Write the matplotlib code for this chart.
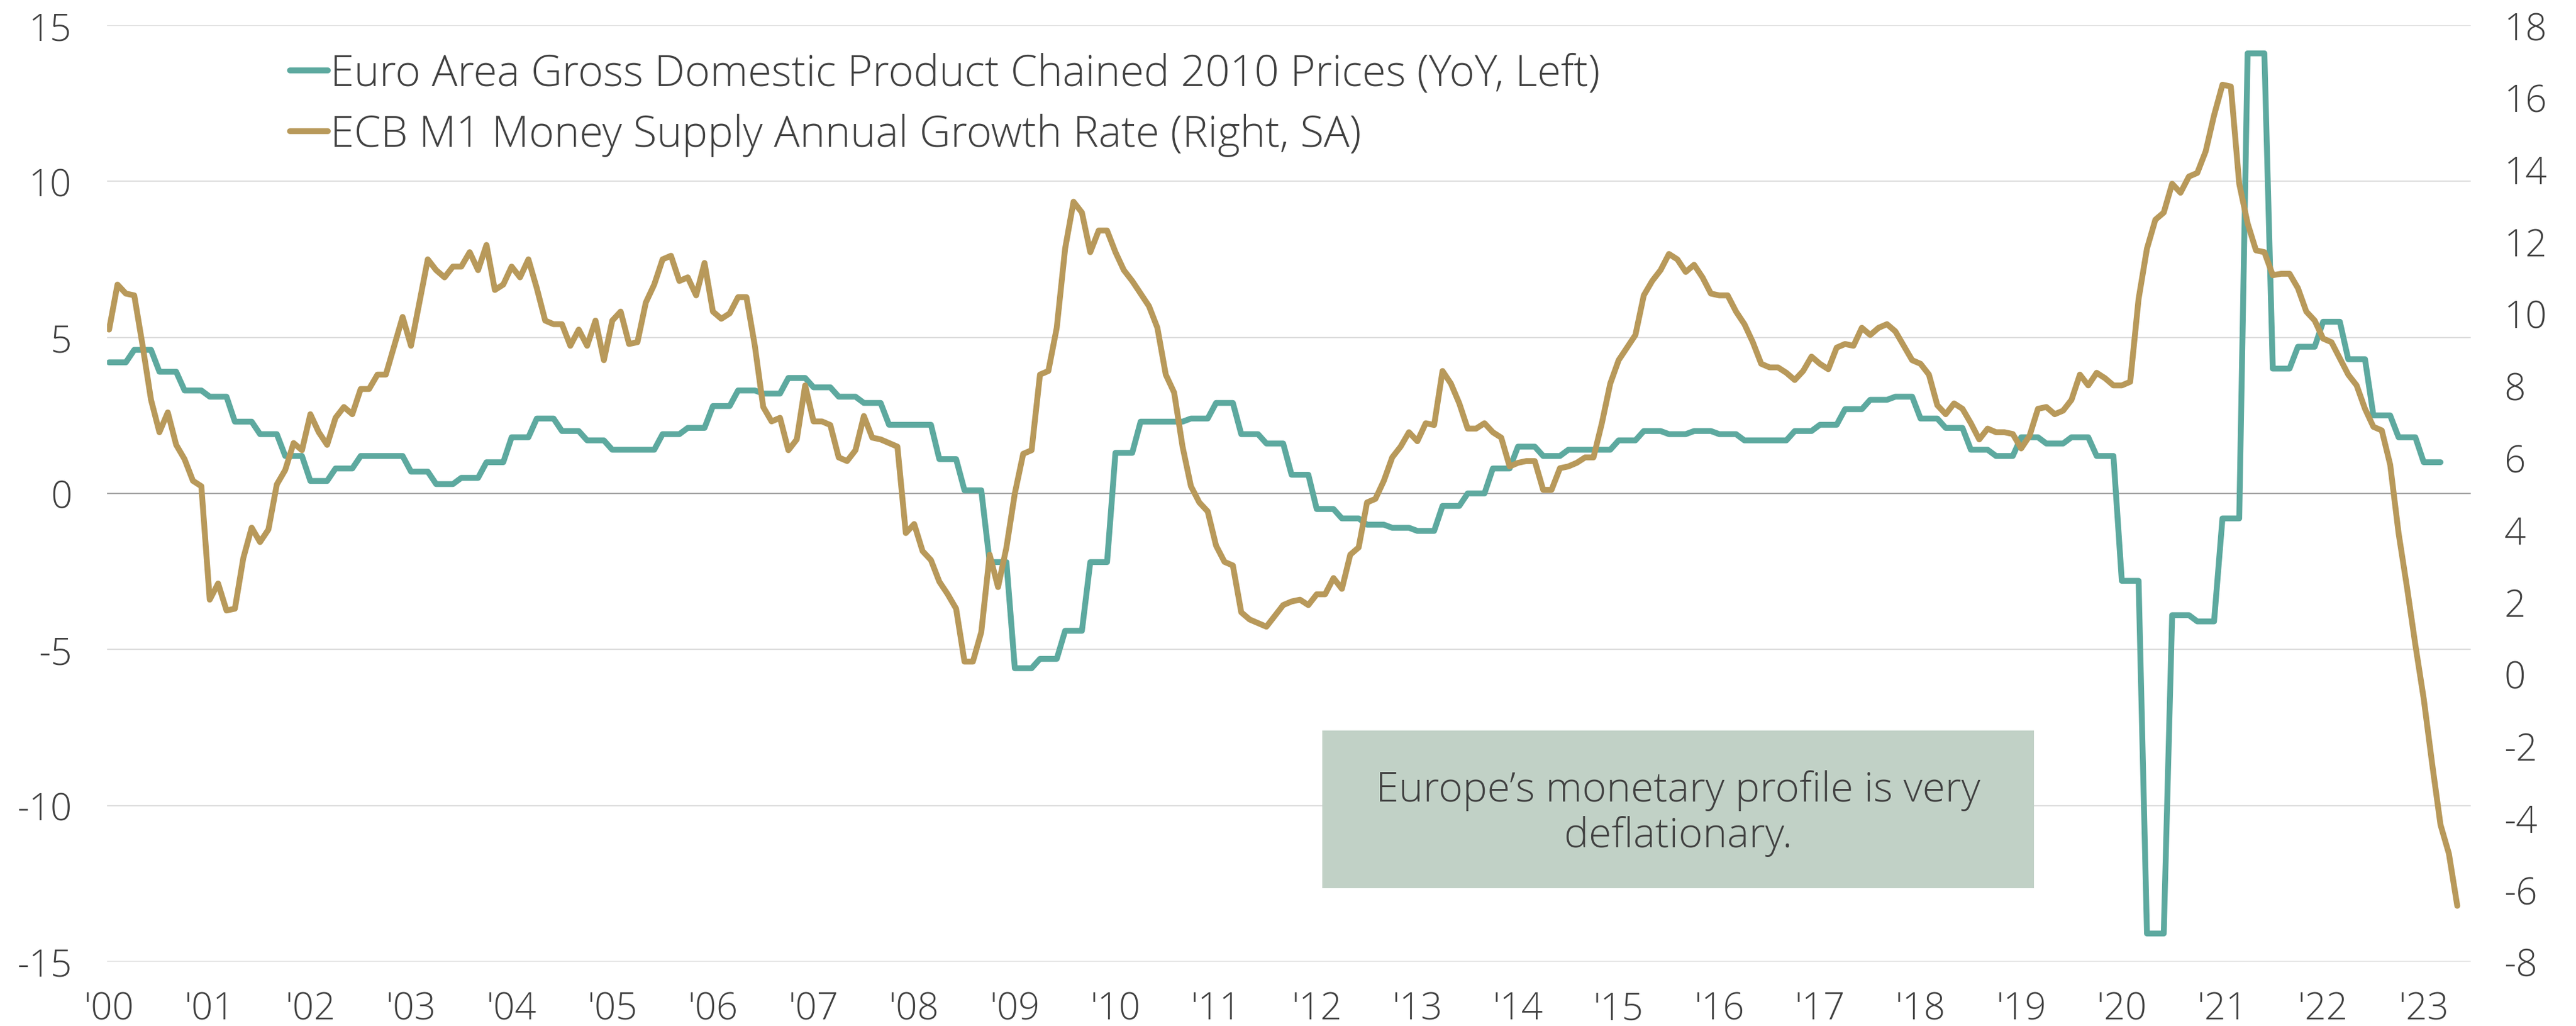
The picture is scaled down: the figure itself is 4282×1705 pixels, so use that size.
import numpy as np
import matplotlib
matplotlib.use("Agg")
import matplotlib.pyplot as plt
from matplotlib.patches import Rectangle
from matplotlib.lines import Line2D

# ---------------- data ----------------
start_year = 2000

# Euro Area GDP, YoY %, quarterly (Q1 2000 .. Q1 2023)
gdp_quarterly = [
    4.2, 4.6, 3.9, 3.3,      # 2000
    3.1, 2.3, 1.9, 1.2,      # 2001
    0.4, 0.8, 1.2, 1.2,      # 2002
    0.7, 0.3, 0.5, 1.0,      # 2003
    1.8, 2.4, 2.0, 1.7,      # 2004
    1.4, 1.4, 1.9, 2.1,      # 2005
    2.8, 3.3, 3.2, 3.7,      # 2006
    3.4, 3.1, 2.9, 2.2,      # 2007
    2.2, 1.1, 0.1, -2.2,     # 2008
    -5.6, -5.3, -4.4, -2.2,  # 2009
    1.3, 2.3, 2.3, 2.4,      # 2010
    2.9, 1.9, 1.6, 0.6,      # 2011
    -0.5, -0.8, -1.0, -1.1,  # 2012
    -1.2, -0.4, 0.0, 0.8,    # 2013
    1.5, 1.2, 1.4, 1.4,      # 2014
    1.7, 2.0, 1.9, 2.0,      # 2015
    1.9, 1.7, 1.7, 2.0,      # 2016
    2.2, 2.7, 3.0, 3.1,      # 2017
    2.4, 2.1, 1.4, 1.2,      # 2018
    1.8, 1.6, 1.8, 1.2,      # 2019
    -2.8, -14.1, -3.9, -4.1, # 2020
    -0.8, 14.1, 4.0, 4.7,    # 2021
    5.5, 4.3, 2.5, 1.8,      # 2022
    1.0,                     # 2023
]

# ECB M1 annual growth rate, %, monthly (Jan 2000 .. May 2023)
m1_monthly = [
    9.55, 10.8, 10.55, 10.5, 9.1, 7.6, 6.7, 7.25, 6.35, 5.95, 5.35, 5.2,     # 2000
    2.05, 2.5, 1.75, 1.8, 3.2, 4.05, 3.65, 4.0, 5.25, 5.65, 6.4, 6.2,        # 2001
    7.2, 6.7, 6.35, 7.1, 7.4, 7.2, 7.9, 7.9, 8.3, 8.3, 9.1, 9.9,             # 2002
    9.1, 10.3, 11.5, 11.2, 11.0, 11.3, 11.3, 11.7, 11.2, 11.9, 10.65, 10.8,  # 2003
    11.3, 11.0, 11.5, 10.7, 9.8, 9.7, 9.7, 9.1, 9.55, 9.1, 9.8, 8.7,         # 2004
    9.8, 10.05, 9.15, 9.2, 10.3, 10.8, 11.5, 11.6, 10.9, 11.0, 10.5, 11.4,   # 2005
    10.05, 9.85, 10.0, 10.45, 10.45, 9.1, 7.4, 7.0, 7.1, 6.2, 6.5, 8.0,      # 2006
    7.0, 7.0, 6.9, 6.0, 5.9, 6.2, 7.15, 6.55, 6.5, 6.4, 6.3, 3.9,            # 2007
    4.15, 3.4, 3.15, 2.55, 2.2, 1.8, 0.33, 0.33, 1.15, 3.3, 2.4, 3.5,        # 2008
    5.0, 6.1, 6.2, 8.3, 8.4, 9.6, 11.8, 13.1, 12.8, 11.7, 12.3, 12.3,        # 2009
    11.7, 11.2, 10.9, 10.55, 10.2, 9.6, 8.3, 7.8, 6.3, 5.2, 4.75, 4.5,       # 2010
    3.55, 3.1, 3.0, 1.7, 1.5, 1.4, 1.3, 1.6, 1.9, 2.0, 2.05, 1.9,            # 2011
    2.2, 2.2, 2.65, 2.35, 3.3, 3.5, 4.75, 4.85, 5.35, 6.0, 6.3, 6.7,         # 2012
    6.45, 6.95, 6.9, 8.4, 8.05, 7.5, 6.8, 6.8, 6.95, 6.7, 6.55, 5.75,        # 2013
    5.85, 5.9, 5.9, 5.1, 5.1, 5.7, 5.75, 5.85, 6.0, 6.0, 6.95, 8.05,         # 2014
    8.7, 9.05, 9.4, 10.5, 10.9, 11.2, 11.65, 11.5, 11.15, 11.35, 11.0, 10.55,  # 2015
    10.5, 10.5, 10.05, 9.7, 9.2, 8.6, 8.5, 8.5, 8.35, 8.15, 8.4, 8.8,        # 2016
    8.6, 8.45, 9.05, 9.15, 9.1, 9.6, 9.4, 9.6, 9.7, 9.5, 9.1, 8.7,           # 2017
    8.6, 8.3, 7.45, 7.2, 7.5, 7.35, 6.95, 6.5, 6.8, 6.7, 6.7, 6.65,          # 2018
    6.25, 6.6, 7.35, 7.4, 7.2, 7.3, 7.6, 8.3, 8.0, 8.35, 8.2, 8.0,           # 2019
    8.0, 8.1, 10.4, 11.8, 12.6, 12.8, 13.6, 13.35, 13.8, 13.9, 14.5, 15.5,   # 2020
    16.35, 16.3, 13.6, 12.5, 11.75, 11.7, 11.06, 11.1, 11.1, 10.7, 10.05, 9.8,  # 2021
    9.3, 9.2, 8.75, 8.3, 8.0, 7.35, 6.85, 6.75, 5.8, 3.9, 2.4, 0.8,          # 2022
    -0.7, -2.5, -4.2, -5.0, -6.45,                                           # 2023
]

year_ticks = list(range(2000, 2024))
year_labels = ["'%02d" % (y % 100) for y in year_ticks]
left_ticks = [-15, -10, -5, 0, 5, 10, 15]
right_ticks = list(range(-8, 19, 2))

gdp_label = "Euro Area Gross Domestic Product Chained 2010 Prices (YoY, Left)"
m1_label = "ECB M1 Money Supply Annual Growth Rate (Right, SA)"
note_text = "Europe\u2019s monetary profile is very\ndeflationary."

# ---------------- style ----------------
TEAL = "#5DA99F"
GOLD = "#B8995A"
TEXT = "#404040"
GRID = "#DEDEDE"
ZERO = "#AAAAAA"
BOX = "#C1D1C6"

plt.rcParams["font.family"] = ["Open Sans", "DejaVu Sans"]
plt.rcParams["font.weight"] = "light"
plt.rcParams["axes.unicode_minus"] = False

W, H = 4282, 1706
fig = plt.figure(figsize=(W / 100, H / 100), dpi=100)
L, R, T, B = 178, 4107, 43, 1599
ax = fig.add_axes([L / W, 1 - B / H, (R - L) / W, (B - T) / H])
ax2 = ax.twinx()

# GDP drawn at monthly resolution (quarter value held for 3 months)
gdp_m = np.repeat(np.array(gdp_quarterly, dtype=float), 3)
t_gdp = start_year + np.arange(len(gdp_m)) / 12.0
t_m1 = start_year + np.arange(len(m1_monthly)) / 12.0

lw = 7.0
ax.plot(t_gdp, gdp_m, color=TEAL, lw=lw, solid_joinstyle="round",
        solid_capstyle="round", zorder=3)
ax2.plot(t_m1, m1_monthly, color=GOLD, lw=lw, solid_joinstyle="round",
         solid_capstyle="round", zorder=3)

ax.set_xlim(1999.98, 2023.467)
ax.set_ylim(-15, 15)
ax2.set_ylim(-8, 18)

ax.set_yticks(left_ticks)
ax2.set_yticks(right_ticks)
ax.set_xticks(year_ticks)
ax.set_xticklabels(year_labels)

for a in (ax, ax2):
    for s in a.spines.values():
        s.set_visible(False)
    a.tick_params(length=0, labelsize=45, labelcolor=TEXT)
ax.tick_params(axis="y", pad=42)
ax2.tick_params(axis="y", pad=40)
ax.tick_params(axis="x", pad=34)

ax.yaxis.grid(True, color=GRID, lw=1.6, zorder=0)
ax.set_axisbelow(True)
ax.axhline(0, color=ZERO, lw=1.6, zorder=1)

# annotation box (axes fraction coordinates)
bx0, bx1 = (2198 - L) / (R - L), (3381 - L) / (R - L)
by0, by1 = (B - 1477) / (B - T), (B - 1215) / (B - T)
ax2.add_patch(Rectangle((bx0, by0), bx1 - bx0, by1 - by0, transform=ax2.transAxes,
                        facecolor=BOX, edgecolor="none", zorder=2))
ax2.text((bx0 + bx1) / 2, (by0 + by1) / 2 - 0.004, note_text, transform=ax2.transAxes,
         ha="center", va="center", fontsize=49.5, color=TEXT, linespacing=1.15, zorder=4)

handles = [Line2D([], [], color=TEAL, lw=lw, solid_capstyle="round"),
           Line2D([], [], color=GOLD, lw=lw, solid_capstyle="round")]
leg = ax2.legend(handles, [gdp_label, m1_label], loc="upper left",
                 bbox_to_anchor=(482 / W, 1 - 88 / H), bbox_transform=fig.transFigure,
                 frameon=False, fontsize=51.5, handlelength=0.88, handletextpad=0.06,
                 labelspacing=0.40, borderpad=0, borderaxespad=0)
for txt in leg.get_texts():
    txt.set_color(TEXT)

fig.savefig("out.png", dpi=100, facecolor="white")
